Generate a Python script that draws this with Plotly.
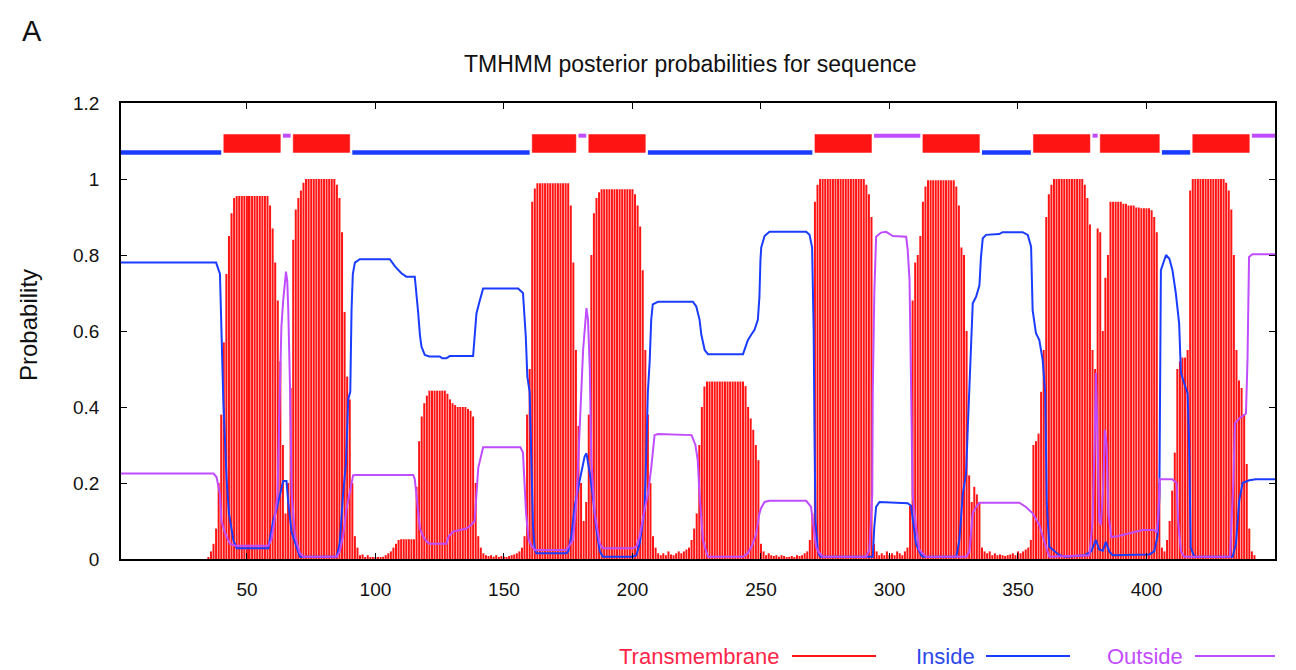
import plotly.graph_objects as go

# ---------------- data ----------------
# TM posterior probability per residue (1..450)
tm_prob = [
    0, 0, 0, 0, 0, 0, 0, 0, 0, 0,
    0, 0, 0, 0, 0, 0, 0, 0, 0, 0,
    0, 0, 0, 0, 0, 0, 0, 0, 0, 0,
    0, 0, 0, 0, 0.005, 0.02, 0.04, 0.08, 0.2, 0.38,
    0.57, 0.75, 0.85, 0.91, 0.95, 0.955, 0.955, 0.955, 0.955, 0.955,
    0.955, 0.955, 0.955, 0.955, 0.955, 0.955, 0.955, 0.955, 0.93, 0.87,
    0.78, 0.68, 0.52, 0.30, 0.12, 0.20, 0.45, 0.84, 0.92, 0.95,
    0.97, 0.99, 1, 1, 1, 1, 1, 1, 1, 1,
    1, 1, 1, 1, 0.985, 0.95, 0.86, 0.65, 0.48, 0.42,
    0.2, 0.06, 0.03, 0.01, 0.012, 0.005, 0.01, 0.005, 0.003, 0.003,
    0.003, 0.004, 0.006, 0.01, 0.015, 0.02, 0.03, 0.04, 0.05, 0.052,
    0.052, 0.052, 0.052, 0.052, 0.052, 0.19, 0.31, 0.375, 0.41, 0.43,
    0.443, 0.443, 0.443, 0.443, 0.443, 0.443, 0.443, 0.435, 0.42, 0.41,
    0.405, 0.4, 0.4, 0.4, 0.4, 0.395, 0.39, 0.375, 0.2, 0.06,
    0.03, 0.015, 0.01, 0.008, 0.01, 0.006, 0.01, 0.005, 0.008, 0.006,
    0.005, 0.008, 0.01, 0.012, 0.015, 0.02, 0.03, 0.06, 0.38, 0.5,
    0.94, 0.975, 0.989, 0.989, 0.989, 0.989, 0.989, 0.989, 0.989, 0.989,
    0.989, 0.989, 0.989, 0.989, 0.989, 0.93, 0.78, 0.55, 0.35, 0.2,
    0.1, 0.15, 0.38, 0.8, 0.91, 0.95, 0.965, 0.973, 0.973, 0.973,
    0.973, 0.973, 0.973, 0.973, 0.973, 0.973, 0.973, 0.973, 0.973, 0.973,
    0.96, 0.93, 0.875, 0.76, 0.55, 0.38, 0.2, 0.06, 0.03, 0.015,
    0.01, 0.015, 0.01, 0.02, 0.012, 0.01, 0.015, 0.02, 0.015, 0.02,
    0.025, 0.03, 0.05, 0.08, 0.12, 0.3, 0.4, 0.454, 0.467, 0.467,
    0.467, 0.467, 0.467, 0.467, 0.467, 0.467, 0.467, 0.467, 0.467, 0.467,
    0.467, 0.467, 0.467, 0.455, 0.4, 0.37, 0.34, 0.3, 0.26, 0.04,
    0.02, 0.01, 0.015, 0.01, 0.008, 0.01, 0.006, 0.01, 0.008, 0.005,
    0.006, 0.008, 0.005, 0.01, 0.008, 0.01, 0.015, 0.02, 0.05, 0.12,
    0.94, 0.985, 1, 1, 1, 1, 1, 1, 1, 1,
    1, 1, 1, 1, 1, 1, 1, 1, 1, 1,
    0.985, 0.96, 0.9, 0.04, 0.02, 0.01, 0.015, 0.01, 0.02, 0.01,
    0.015, 0.01, 0.02, 0.015, 0.01, 0.02, 0.03, 0.14, 0.68, 0.78,
    0.8, 0.85, 0.94, 0.98, 0.997, 0.997, 0.997, 0.997, 0.997, 0.997,
    0.997, 0.997, 0.997, 0.997, 0.997, 0.98, 0.93, 0.82, 0.8, 0.6,
    0.22, 0.15, 0.19, 0.17, 0.15, 0.03, 0.02, 0.015, 0.02, 0.01,
    0.015, 0.01, 0.012, 0.01, 0.008, 0.01, 0.012, 0.015, 0.01, 0.02,
    0.015, 0.02, 0.025, 0.03, 0.05, 0.3, 0.31, 0.33, 0.44, 0.55,
    0.9, 0.96, 0.985, 1, 1, 1, 1, 1, 1, 1,
    1, 1, 1, 1, 1, 0.985, 0.95, 0.88, 0.55, 0.5,
    0.87, 0.86, 0.6, 0.74, 0.8, 0.94, 0.94, 0.94, 0.94, 0.94,
    0.935, 0.935, 0.93, 0.93, 0.93, 0.925, 0.925, 0.923, 0.923, 0.923,
    0.923, 0.918, 0.9, 0.86, 0.2, 0.03, 0.02, 0.05, 0.1, 0.18,
    0.28, 0.5, 0.52, 0.53, 0.53, 0.55, 0.97, 1, 1, 1,
    1, 1, 1, 1, 1, 1, 1, 1, 1, 1,
    0.99, 0.97, 0.92, 0.8, 0.55, 0.47, 0.45, 0.38, 0.25, 0.08,
    0.02, 0.01, 0, 0, 0, 0, 0, 0, 0, 0,
]
residues = list(range(1, len(tm_prob) + 1))

# Inside probability curve (read-off vertices: residue, probability)
inside_x = [1, 38, 39.5, 40.1, 40.8, 42.1, 43, 44.7, 46, 58.3, 60.2, 61.5, 62.8, 64.1, 65.4,
            66.1, 67.4, 69.3, 70.6, 84.9, 86.1, 87.4, 88.5, 89.4, 90.2, 90.7, 91.2, 92, 93.9,
            105.6, 107.6, 110.1, 112, 115.3, 116, 116.6, 117.3, 117.9, 119.2, 121, 125, 126,
            127.6, 128.9, 138, 138.6, 139.3, 140.6, 141.9, 155.5, 157.4, 158.5, 159.1, 160,
            160.7, 161.3, 162, 162.6, 174.3, 175, 176.2, 177.5, 179.5, 181.4, 182.1, 183.4,
            184.6, 186, 187.3, 188.5, 200.2, 201.5, 202.8, 204.7, 205.3, 206, 206.7, 207.3,
            207.9, 209.9, 223.5, 224.8, 226.1, 226.8, 228.1, 229.4, 243, 243.6, 244.9, 246.2,
            247.5, 248.8, 249.4, 249.8, 250.1, 251.4, 253.3, 267.6, 268.9, 269.9, 270.2, 270.5,
            270.8, 271.2, 272.1, 272.7, 273.3, 293.5, 294.1, 294.8, 296.1, 307.1, 308.4, 309.3,
            310.3, 312.3, 313, 326, 327.2, 328.5, 329.8, 330.5, 331.1, 331.7, 332.4, 333.7, 335,
            335.6, 336.3, 337.6, 342.7, 344, 351.8, 353.8, 355.1, 355.7, 357, 358.3, 359.6,
            360.6, 361.2, 362.2, 366.1, 368.7, 376, 378.5, 380.3, 381.6, 383, 384.2, 385.5,
            386.8, 401.1, 403, 404.3, 405, 405.6, 407.6, 408.9, 410.1, 411.4, 412.7, 413.4,
            414.7, 416, 416.6, 417.2, 418.6, 433.5, 434.8, 436.1, 437.4, 440, 442.6, 450]
inside_y = [0.78, 0.78, 0.75, 0.56, 0.42, 0.21, 0.12, 0.05, 0.028, 0.028, 0.1, 0.13, 0.165, 0.205, 0.205,
            0.147, 0.07, 0.03, 0.006, 0.006, 0.04, 0.17, 0.25, 0.42, 0.44, 0.655, 0.75, 0.78, 0.789,
            0.789, 0.77, 0.752, 0.743, 0.743, 0.70, 0.65, 0.59, 0.559, 0.537, 0.533, 0.533, 0.528,
            0.528, 0.534, 0.534, 0.59, 0.646, 0.68, 0.712, 0.712, 0.70, 0.585, 0.48, 0.44,
            0.26, 0.085, 0.024, 0.015, 0.015, 0.02, 0.06, 0.138, 0.208, 0.27, 0.278, 0.225,
            0.164, 0.076, 0.02, 0.006, 0.006, 0.01, 0.04, 0.13, 0.26, 0.44, 0.52, 0.63,
            0.67, 0.677, 0.677, 0.665, 0.63, 0.59, 0.55, 0.539, 0.539, 0.55, 0.576, 0.59,
            0.603, 0.63, 0.69, 0.787, 0.82, 0.85, 0.861, 0.861, 0.853, 0.82, 0.743, 0.6,
            0.35, 0.1, 0.024, 0.01, 0.006, 0.006, 0.085, 0.137, 0.15, 0.147, 0.14, 0.085,
            0.04, 0.01, 0.006, 0.006, 0.05, 0.17, 0.225, 0.35, 0.462, 0.594, 0.673, 0.69, 0.72,
            0.795, 0.844, 0.853, 0.855, 0.86, 0.86, 0.853, 0.822, 0.655, 0.594, 0.576, 0.524,
            0.436, 0.147, 0.032, 0.01, 0.006, 0.01, 0.02, 0.05, 0.025, 0.022, 0.045, 0.02,
            0.01, 0.012, 0.02, 0.06, 0.16, 0.76, 0.8, 0.79, 0.76, 0.70, 0.62, 0.49,
            0.462, 0.436, 0.3, 0.03, 0.006, 0.006, 0.04, 0.155, 0.2, 0.207, 0.21, 0.21]

# Outside probability curve (read-off vertices: residue, probability)
outside_x = [1, 37, 38.2, 39.5, 40.1, 41.4, 43.4, 45.5, 58.3, 59.5, 60.7, 61.9, 62.8, 63.4, 64.1,
             65.2, 65.7, 66.1, 66.8, 67.4, 68.7, 70.6, 72, 84.9, 86.1, 87.4, 88.7, 90, 91.3, 92,
             114.7, 115.3, 116.3, 117.3, 118.5, 120, 121.1, 127.6, 128.5, 130.2, 135.4, 137.3,
             138.6, 139.3, 140, 141.9, 156.4, 157.4, 158, 158.6, 159.6, 160.7, 162, 174.3,
             176.9, 178.2, 179.5, 180.8, 182.1, 182.7, 183.4, 184, 185.3, 187.3, 188.5, 200.2,
             201.5, 202.8, 204.7, 206, 207.3, 208.6, 209.9, 223, 224.5, 225.4, 226.1, 227.4,
             228.7, 229.4, 243, 244.9, 246.8, 248.1, 249.4, 250.1, 251.4, 253.3, 267.6, 269.5,
             270.4, 271.5, 272.8, 274.1, 290.9, 292.2, 293.3, 293.5, 294.1, 294.8, 296.7, 298.7,
             301.3, 306.5, 307.1, 307.8, 308.1, 308.4, 309, 310.3, 311.6, 314.2, 329.8, 331.1,
             332.4, 333.7, 335, 350.5, 353.1, 355.7, 358.3, 359.6, 360.9, 362.2, 377.8, 379,
             379.8, 380.3, 381, 381.6, 382.3, 383.2, 383.8, 384.5, 385.2, 386.3, 388.7, 392,
             396, 398.5, 403, 404, 404.6, 405.2, 410, 411.7, 412.3, 413.4, 414.7, 432.5, 433.1,
             433.8, 434.4, 436.1, 438.7, 439.3, 439.9, 441.2, 450]
outside_y = [0.225, 0.225, 0.215, 0.17, 0.1, 0.07, 0.04, 0.035, 0.035, 0.05, 0.1, 0.17, 0.44, 0.61, 0.68,
             0.756, 0.73, 0.65, 0.44, 0.17, 0.06, 0.015, 0.006, 0.006, 0.02, 0.06, 0.13, 0.18, 0.22, 0.221,
             0.221, 0.21, 0.137, 0.08, 0.06, 0.045, 0.04, 0.04, 0.06, 0.072, 0.08, 0.09,
             0.10, 0.17, 0.24, 0.294, 0.294, 0.28, 0.2, 0.12, 0.05, 0.035, 0.024, 0.024,
             0.05, 0.15, 0.35, 0.55, 0.66, 0.63, 0.5, 0.26, 0.12, 0.04, 0.028, 0.028,
             0.033, 0.06, 0.13, 0.17, 0.24, 0.326, 0.329, 0.326, 0.3, 0.26, 0.17, 0.05,
             0.02, 0.006, 0.006, 0.015, 0.04, 0.066, 0.12, 0.135, 0.15, 0.153, 0.153, 0.137,
             0.085, 0.03, 0.015, 0.006, 0.006, 0.024, 0.17, 0.44, 0.70, 0.848, 0.859, 0.861,
             0.85, 0.848, 0.813, 0.734, 0.6, 0.42, 0.17, 0.085, 0.024, 0.006, 0.006, 0.02,
             0.12, 0.137, 0.148, 0.148, 0.137, 0.12, 0.09, 0.06, 0.03, 0.006, 0.01, 0.1,
             0.3, 0.49, 0.3, 0.1, 0.09, 0.2, 0.34, 0.3, 0.12, 0.058, 0.06, 0.066,
             0.072, 0.076, 0.076, 0.07, 0.12, 0.21, 0.21, 0.2, 0.1, 0.02, 0.006, 0.006, 0.1,
             0.2, 0.357, 0.37, 0.383, 0.524, 0.795, 0.802, 0.802]

# Predicted topology segments (start, end residue)
inside_segments = [(1, 40), (91, 160), (206, 270), (336, 355), (406, 417)]
tm_segments = [(41, 63), (68, 90), (161, 178), (183, 205), (271, 293),
               (313, 335), (356, 378), (382, 405), (418, 440)]
outside_segments = [(64, 67), (179, 182), (294, 312), (379, 381), (441, 450)]

x_ticks = [50, 100, 150, 200, 250, 300, 350, 400]
y_ticks = [0, 0.2, 0.4, 0.6, 0.8, 1.0, 1.2]
y_ticklabels = ["0", "0.2", "0.4", "0.6", "0.8", "1", "1.2"]

legend_names = ["Transmembrane", "Inside", "Outside"]

# ---------------- style ----------------
RED = "#ff1414"
BLUE = "#1a3cff"
MAG = "#c04cff"
FONT = "Liberation Sans, Arial, sans-serif"
Y_IN, Y_OUT, Y_TM0, Y_TM1 = 1.07, 1.114, 1.07, 1.117

W, H = 1296, 670
L, R, T, B = 121, 21, 103, 111
PW, PH = W - L - R, H - T - B


def px(xp):
    return (xp - L) / PW


def py(yp):
    return (H - B - yp) / PH


fig = go.Figure()

fig.add_trace(go.Bar(x=residues, y=tm_prob, marker=dict(color=RED, line=dict(width=0)),
                     showlegend=False, hoverinfo="x+y"))

fig.add_trace(go.Scatter(x=inside_x, y=inside_y, mode="lines",
                         line=dict(color=BLUE, width=2), showlegend=False))
fig.add_trace(go.Scatter(x=outside_x, y=outside_y, mode="lines",
                         line=dict(color=MAG, width=2), showlegend=False))

# topology tracks
ix, iy = [], []
for s, e in inside_segments:
    ix += [s, e, None]
    iy += [Y_IN, Y_IN, None]
fig.add_trace(go.Scatter(x=ix, y=iy, mode="lines", line=dict(color=BLUE, width=4.5),
                         showlegend=False, connectgaps=False))
ox, oy = [], []
for s, e in outside_segments:
    ox += [s, e, None]
    oy += [Y_OUT, Y_OUT, None]
fig.add_trace(go.Scatter(x=ox, y=oy, mode="lines", line=dict(color=MAG, width=4),
                         showlegend=False, connectgaps=False))
for s, e in tm_segments:
    fig.add_trace(go.Scatter(x=[s, e, e, s, s], y=[Y_TM0, Y_TM0, Y_TM1, Y_TM1, Y_TM0],
                             mode="lines", fill="toself", fillcolor=RED,
                             line=dict(color=RED, width=0.5), showlegend=False))

axis_common = dict(showline=True, linecolor="black", linewidth=1.6, mirror="ticks",
                   ticks="inside", ticklen=6, tickwidth=1.4, tickcolor="black",
                   showgrid=False, zeroline=False,
                   tickfont=dict(family=FONT, size=19, color="#111111"))

fig.update_layout(
    width=W, height=H,
    margin=dict(l=L, r=R, t=T, b=B, pad=0),
    paper_bgcolor="white", plot_bgcolor="white",
    bargap=0.22,
    showlegend=False,
    xaxis=dict(range=[1, 450], tickvals=x_ticks, ticklabelstandoff=12, **axis_common),
    yaxis=dict(range=[0, 1.2], tickvals=y_ticks, ticktext=y_ticklabels,
               ticklabelstandoff=16, **axis_common),
)

annotations = [
    dict(text="A", x=px(20), y=py(31), xanchor="left", yanchor="middle",
         font=dict(family=FONT, size=29, color="#111111")),
    dict(text="TMHMM posterior probabilities for sequence", x=px(690), y=py(64),
         xanchor="center", yanchor="middle", font=dict(family=FONT, size=23, color="#111111")),
    dict(text="Probability", x=px(28), y=py(325), xanchor="center", yanchor="middle",
         textangle=-90, font=dict(family=FONT, size=24, color="#111111")),
]
legend_colors = [RED, BLUE, MAG]
legend_text_colors = ["#ff2448", "#2c48ea", "#c24dff"]
legend_text_right = [782, 977, 1185]
legend_line_span = [(792, 876), (986, 1070), (1195, 1275)]
shapes = []
for name, tc, lc, tr, (l0, l1) in zip(legend_names, legend_text_colors, legend_colors,
                                       legend_text_right, legend_line_span):
    annotations.append(dict(text=name, x=px(tr), y=py(656), xanchor="right", yanchor="middle",
                            font=dict(family=FONT, size=22, color=tc)))
    shapes.append(dict(type="line", xref="paper", yref="paper", x0=px(l0), x1=px(l1),
                       y0=py(656), y1=py(656), line=dict(color=lc, width=2)))
for a in annotations:
    a.update(xref="paper", yref="paper", showarrow=False)
fig.update_layout(annotations=annotations, shapes=shapes)

fig.write_html("out.html", config={"displayModeBar": False},
               post_script="document.body.style.margin='0px';document.body.style.overflow='hidden';")
